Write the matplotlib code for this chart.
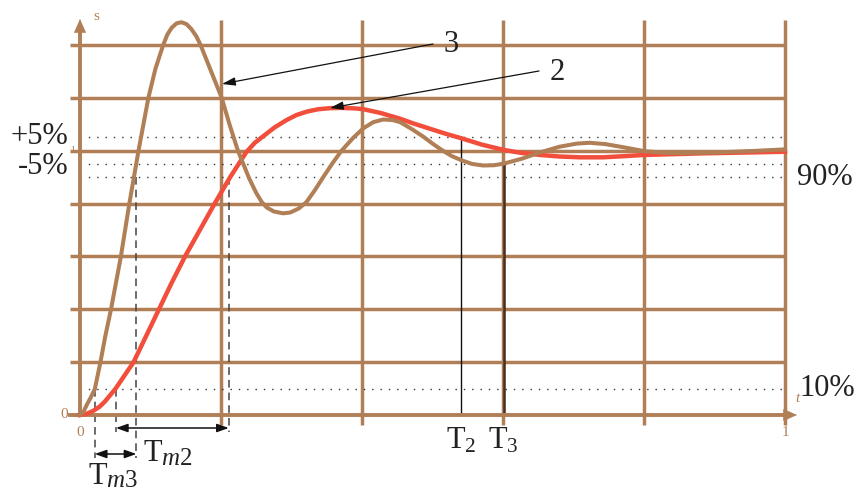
import matplotlib
matplotlib.use('Agg')
import matplotlib.pyplot as plt

plt.rcParams['font.family'] = ['Liberation Serif', 'DejaVu Serif']
plt.rcParams['mathtext.fontset'] = 'custom'
plt.rcParams['mathtext.rm'] = 'Liberation Serif'
plt.rcParams['mathtext.it'] = 'Liberation Serif:italic'

# curve 3 (brown, oscillating)
t3 = [0.000, 0.005, 0.0095, 0.015, 0.021, 0.029, 0.036, 0.044, 0.051, 0.058,
      0.064, 0.070, 0.0765, 0.083, 0.090, 0.097, 0.107, 0.118, 0.124, 0.130,
      0.137, 0.144, 0.151, 0.158, 0.165, 0.171, 0.186, 0.201, 0.212, 0.224,
      0.240, 0.250, 0.258, 0.265, 0.275, 0.288, 0.298, 0.310, 0.321, 0.333,
      0.345, 0.358, 0.371, 0.388, 0.402, 0.416, 0.430, 0.443, 0.454, 0.470,
      0.487, 0.500, 0.513, 0.527, 0.541, 0.556, 0.572, 0.587, 0.601, 0.627,
      0.652, 0.680, 0.705, 0.723, 0.745, 0.771, 0.801, 0.830, 0.851, 0.908,
      0.955, 1.000]
s3 = [0.000, 0.012, 0.038, 0.065, 0.098, 0.200, 0.300, 0.400, 0.500, 0.600,
      0.700, 0.800, 0.900, 1.000, 1.100, 1.200, 1.310, 1.400, 1.440, 1.465,
      1.482, 1.486, 1.479, 1.460, 1.433, 1.400, 1.300, 1.200, 1.100, 1.000,
      0.895, 0.840, 0.805, 0.785, 0.770, 0.763, 0.766, 0.781, 0.805, 0.850,
      0.900, 0.952, 1.000, 1.050, 1.085, 1.108, 1.118, 1.116, 1.108, 1.083,
      1.053, 1.027, 1.003, 0.980, 0.964, 0.950, 0.944, 0.945, 0.951, 0.970,
      0.993, 1.015, 1.027, 1.030, 1.025, 1.013, 0.998, 0.992, 0.991, 0.994,
      0.999, 1.005]

# curve 2 (red, damped)
t2 = [0.000, 0.010, 0.019, 0.028, 0.035, 0.050, 0.062, 0.076, 0.094, 0.112,
      0.130, 0.149, 0.170, 0.191, 0.213, 0.236, 0.248, 0.260, 0.276, 0.293,
      0.307, 0.322, 0.338, 0.355, 0.372, 0.390, 0.402, 0.426, 0.454, 0.473,
      0.500, 0.520, 0.541, 0.570, 0.601, 0.625, 0.652, 0.680, 0.709, 0.742,
      0.770, 0.801, 0.884, 1.000]
s2 = [0.000, 0.005, 0.016, 0.032, 0.050, 0.098, 0.145, 0.200, 0.300, 0.400,
      0.500, 0.600, 0.700, 0.800, 0.900, 0.995, 1.030, 1.055, 1.088, 1.116,
      1.135, 1.148, 1.157, 1.161, 1.162, 1.160, 1.157, 1.143, 1.121, 1.103,
      1.080, 1.063, 1.047, 1.023, 1.003, 0.992, 0.984, 0.978, 0.975, 0.975,
      0.979, 0.984, 0.990, 0.996]

grid_s = [0.2, 0.4, 0.6, 0.8, 1.0, 1.2, 1.4]
grid_t = [0.2, 0.4, 0.6, 0.8, 1.0]
band_s = [1.053, 0.950, 0.900, 0.098]
band_labels = ['+5%', '-5%', '90%', '10%']

tm3 = [0.021, 0.080]
tm2 = [0.051, 0.211]
T2 = 0.541
T3 = 0.601

BROWN = '#b07f56'
RED = '#f24e3c'
INK = '#222222'


def px(x):
    return (x - 80) / 705


def py(y):
    return (415 - y) / 264.3


fig = plt.figure(figsize=(8.57, 4.93), dpi=100)
ax = fig.add_axes([0, 0, 1, 1])
ax.set_xlim(px(0), px(857))
ax.set_ylim(py(493), py(0))
ax.axis('off')

# grid
ax.hlines(grid_s, px(70), 1.0, colors=BROWN, lw=2.5, zorder=1)
ax.vlines(grid_t, py(425), py(20), colors=BROWN, lw=2.5, zorder=1)

# axes with arrows
ax.plot([0, 0], [0, py(34)], color=BROWN, lw=2.8, zorder=2)
ax.plot([px(70), px(782)], [0, 0], color=BROWN, lw=2.8, zorder=2)
ax.annotate('', xy=(0, py(19)), xytext=(0, py(36)),
            arrowprops=dict(arrowstyle='-|>,head_length=0.9,head_width=0.4',
                            color=BROWN, lw=0.5, shrinkA=0, shrinkB=0), zorder=2)
ax.annotate('', xy=(px(797), 0), xytext=(px(779), 0),
            arrowprops=dict(arrowstyle='-|>,head_length=0.9,head_width=0.4',
                            color=BROWN, lw=0.5, shrinkA=0, shrinkB=0), zorder=2)

# dotted tolerance levels
ax.hlines(band_s, 0, 1.0, colors='#333333', linestyles=[(0, (1, 5))], lw=1.0, zorder=1.5)

# dashed markers for rise times
dash = (0, (5, 3.3))
ax.plot([tm3[0], tm3[0]], [band_s[3], py(458)], color='#444444', lw=1.1, ls=dash, zorder=1.6)
ax.plot([tm3[1], tm3[1]], [band_s[2], py(458)], color='#444444', lw=1.1, ls=dash, zorder=1.6)
ax.plot([tm2[0], tm2[0]], [band_s[3], py(432)], color='#444444', lw=1.1, ls=dash, zorder=1.6)
ax.plot([tm2[1], tm2[1]], [band_s[2], py(432)], color='#444444', lw=1.1, ls=dash, zorder=1.6)

# settling times
ax.plot([T2, T2], [band_s[0], 0], color='#111111', lw=1.0, zorder=1.6)
ax.plot([T3, T3], [band_s[1], 0], color='#4a3020', lw=1.8, zorder=1.6)

# curves
ax.plot(t2, s2, color=RED, lw=3.2, solid_joinstyle='round', zorder=3)
ax.plot(t3, s3, color=BROWN, lw=2.9, solid_joinstyle='round', zorder=3.5)

# double arrows
dbl = dict(arrowstyle='<|-|>,head_length=0.7,head_width=0.25', color='#111111',
           lw=1.1, shrinkA=0, shrinkB=0)
ax.annotate('', xy=(tm3[0], py(454)), xytext=(tm3[1], py(454)), arrowprops=dbl)
ax.annotate('', xy=(tm2[0], py(428)), xytext=(tm2[1], py(428)), arrowprops=dbl)

# curve labels with pointers
ptr = dict(arrowstyle='-|>,head_length=0.8,head_width=0.25', color='#111111',
           lw=0.9, shrinkA=0, shrinkB=0)
ax.annotate('', xy=(px(222), py(84)), xytext=(px(433), py(44)), arrowprops=ptr, zorder=4)
ax.annotate('', xy=(px(330), py(108)), xytext=(px(539), py(71)), arrowprops=ptr, zorder=4)
ax.text(px(451), py(45), '3', fontsize=22, ha='center', va='center', color=INK)
ax.text(px(557), py(72), '2', fontsize=22, ha='center', va='center', color=INK)

# level labels
ax.text(px(68), band_s[0], band_labels[0], fontsize=22, ha='right', va='center', color=INK)
ax.text(px(68), py(166), band_labels[1], fontsize=22, ha='right', va='center', color=INK)
ax.text(px(797), band_s[2], band_labels[2], fontsize=22, ha='left', va='center', color=INK)
ax.text(px(799), py(389), band_labels[3], fontsize=22, ha='left', va='center', color=INK)

# time labels
ax.text(T2, py(426), r'$\mathrm{T}_{2}$', fontsize=22, ha='center', va='top', color=INK)
ax.text(T3, py(426), r'$\mathrm{T}_{3}$', fontsize=22, ha='center', va='top', color=INK)
ax.text(px(143), py(461), 'T', fontsize=22, ha='left', va='baseline', color=INK)
ax.text(px(161), py(465), r'$m\mathrm{2}$', fontsize=18, ha='left', va='baseline', color=INK)
ax.text(px(88), py(484), 'T', fontsize=22, ha='left', va='baseline', color=INK)
ax.text(px(106), py(487), r'$m\mathrm{3}$', fontsize=18, ha='left', va='baseline', color=INK)

# small axis labels
ax.text(px(64), 0, '0', fontsize=11, ha='center', va='center', color=BROWN)
ax.text(0, py(432), '0', fontsize=11, ha='center', va='center', color=BROWN)
ax.text(1.0, py(432), '1', fontsize=11, ha='center', va='center', color=BROWN)
ax.text(px(73), 1.0, '1', fontsize=7, ha='center', va='center', color=BROWN)
ax.text(px(96), py(17), 's', fontsize=11, ha='center', va='center', color=BROWN)
ax.text(px(797), py(399), 't', fontsize=11, ha='center', va='center', color=BROWN,
        style='italic')

fig.savefig('out.png', dpi=100)
